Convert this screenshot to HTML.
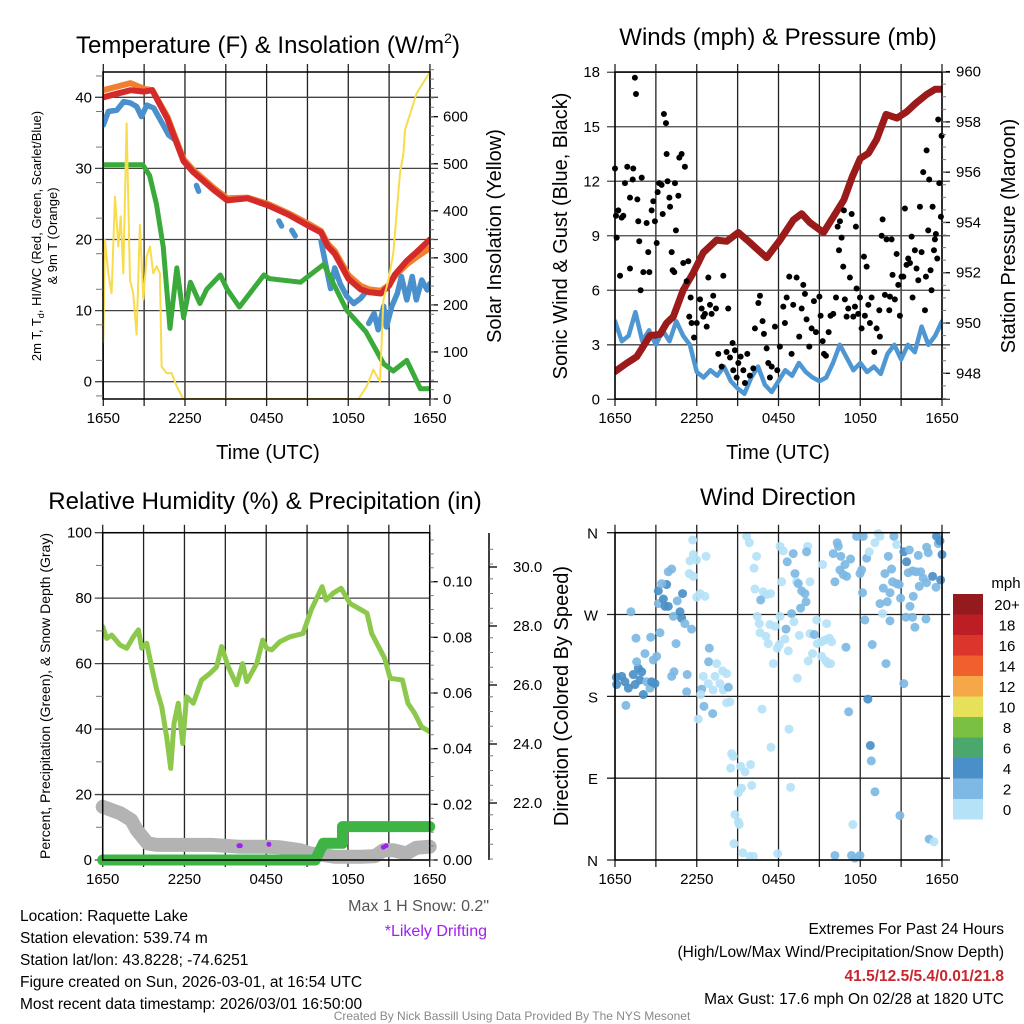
<!DOCTYPE html>
<html><head><meta charset="utf-8">
<style>
html,body{margin:0;padding:0;background:#fff;}
svg{display:block;font-family:"Liberation Sans",Arial,sans-serif;}
</style></head>
<body>
<svg id="c" width="1024" height="1024" viewBox="0 0 1024 1024" xmlns="http://www.w3.org/2000/svg">
<rect width="1024" height="1024" fill="#fff"/>
<g id="grid"></g>
<g id="marks"></g>
<g id="axes"></g>
<g fill="#000">
<text x="268" y="53" font-size="24" text-anchor="middle">Temperature (F) &amp; Insolation (W/m<tspan font-size="14" dy="-10">2</tspan><tspan dy="10">)</tspan></text>
<text x="778" y="45" font-size="24" text-anchor="middle">Winds (mph) &amp; Pressure (mb)</text>
<text x="265" y="509" font-size="24" text-anchor="middle">Relative Humidity (%) &amp; Precipitation (in)</text>
<text x="778" y="505" font-size="24" text-anchor="middle">Wind Direction</text>
<text x="268" y="459" font-size="20" text-anchor="middle">Time (UTC)</text>
<text x="778" y="459" font-size="20" text-anchor="middle">Time (UTC)</text>
<text transform="translate(41,236) rotate(-90)" font-size="13" text-anchor="middle">2m T, T<tspan font-size="9" dy="3">d</tspan><tspan dy="-3">, HI/WC (Red, Green, Scarlet/Blue)</tspan></text>
<text transform="translate(57,236) rotate(-90)" font-size="13" text-anchor="middle">&amp; 9m T (Orange)</text>
<text transform="translate(501,236) rotate(-90)" font-size="20" text-anchor="middle">Solar Insolation (Yellow)</text>
<text transform="translate(567,236) rotate(-90)" font-size="20" text-anchor="middle">Sonic Wind &amp; Gust (Blue, Black)</text>
<text transform="translate(1015,236) rotate(-90)" font-size="20" text-anchor="middle">Station Pressure (Maroon)</text>
<text transform="translate(50,696) rotate(-90)" font-size="14" text-anchor="middle">Percent, Precipitation (Green), &amp; Snow Depth (Gray)</text>
<text transform="translate(568,696) rotate(-90)" font-size="20" text-anchor="middle">Direction (Colored By Speed)</text>
<text x="489" y="911" font-size="16" text-anchor="end" fill="#555">Max 1 H Snow: 0.2"</text>
<text x="487" y="936" font-size="16" text-anchor="end" fill="#a020f0">*Likely Drifting</text>
<g font-size="15.5">
<text x="20" y="921">Location: Raquette Lake</text>
<text x="20" y="943">Station elevation: 539.74 m</text>
<text x="20" y="965">Station lat/lon: 43.8228; -74.6251</text>
<text x="20" y="987">Figure created on Sun, 2026-03-01, at 16:54 UTC</text>
<text x="20" y="1009">Most recent data timestamp: 2026/03/01 16:50:00</text>
</g>
<g font-size="15.5" text-anchor="end">
<text x="1004" y="934">Extremes For Past 24 Hours</text>
<text x="1004" y="957">(High/Low/Max Wind/Precipitation/Snow Depth)</text>
<text x="1004" y="981" font-weight="bold" fill="#c62830">41.5/12.5/5.4/0.01/21.8</text>
<text x="1004" y="1004">Max Gust: 17.6 mph On 02/28 at 1820 UTC</text>
</g>
<text x="512" y="1020" font-size="12" text-anchor="middle" fill="#888">Created By Nick Bassill Using Data Provided By The NYS Mesonet</text>
</g>
</svg>
<script>
// ---------- data ----------
const xTickLabels = ["1650","2250","0450","1050","1650"];
const tempTicks = [0,10,20,30,40];
const solarTicks = [0,100,200,300,400,500,600];
const windTicks = [0,3,6,9,12,15,18];
const presTicks = [948,950,952,954,956,958,960];
const rhTicks = [0,20,40,60,80,100];
const precipTicks = [0.00,0.02,0.04,0.06,0.08,0.10];
const snowTicks = [22.0,24.0,26.0,28.0,30.0];
const dirTicks = ["N","E","S","W","N"];
const speedBins = ["0","2","4","6","8","10","12","14","16","18","20+"];

const tempHours = [0,1,2,3,3.6,4.7,5.9,6.6,8.1,9.1,10.6,12.1,13.6,15.0,16.0,16.5,17.0,18.0,18.9,19.5,20.4,21.0,21.4,22.3,23,24];
const tempVals  = [40,40.5,41,40.8,41,37,31,29.5,27,25.5,25.8,24.8,23.5,22,21,19,18,14.5,13,12.6,12.4,13.5,15,17,18.2,20];
const orangeVals= [41,41.5,42,41.2,41,37.3,31.3,29.8,27.3,25.8,25.9,25,23.7,22.3,21.2,19.4,18.4,15,13.5,13,12.8,13.6,14.8,16.5,17.5,18.8];
const chillHours = [0,0.37,1,1.5,2,2.45,2.8,3.2,3.7,4.05,4.4,4.8,5.3,5.4,6.85,7.0,7.1,12.9,13.1,13.2,13.85,14.1,14.2,16.0,16.1,16.3,16.7,17,17.4,17.9,18.4,18.9,19.2,19.35,19.5,19.9,20.2,20.6,20.8,21.2,21.6,21.9,22.3,22.7,23,23.4,23.8,24];
const chillVals  = [36.1,38,38.2,39.4,39.2,38.7,37.3,38.9,38.5,37.3,36.1,34.7,34,null,27.6,26.8,null,22.6,21.9,null,21.3,20.5,null,19.8,18.8,16.9,13.1,16,13.8,12,11,11.7,12.4,null,8.2,9.6,7.3,10.6,7.7,10.6,12.4,14.8,11.5,14.8,11.5,14.3,12.9,13.8];
const dewHours = [0,2.9,3.4,3.9,4.4,4.9,5.4,5.9,6.4,7.1,7.6,8.6,9.1,10,11.8,12.2,14.5,16.2,17.9,19.3,20.6,21.3,22.3,23.3,24];
const dewVals  = [30.5,30.5,29,25,19,7.5,16,9,14,11,13,15,13,10.5,15,14.5,14,16.5,10,7,2.5,1.5,3,-1,-1];
const solarHours = [0,0.12,0.37,0.61,0.86,1.1,1.28,1.47,1.71,1.96,2.2,2.45,2.69,2.94,3.18,3.43,3.67,3.92,4.16,4.28,4.65,5.02,5.39,5.88,18.74,19.35,19.84,20.33,20.58,20.95,21.31,21.8,22.05,22.17,23.03,24];
const solarVals  = [120,338,267,225,430,324,388,267,586,253,225,137,370,211,303,324,267,282,267,69,55,55,27,0,0,27,62,37,211,253,310,480,522,572,650,695];

const presHours = [0,0.86,1.59,2.57,3.3,3.79,4.28,5.0,5.75,6.48,7.46,8.2,9.05,9.91,11.13,12.11,13.09,13.7,14.3,15.3,16.0,16.8,17.4,18.0,18.6,19.2,19.9,20.7,21.4,22.1,22.9,23.5,24];
const presVals  = [948.07,948.4,948.66,949.5,949.55,950,950.25,951.3,952,952.8,953.3,953.25,953.6,953.2,952.6,953.3,954.1,954.35,954,953.6,954.2,954.9,955.8,956.55,956.75,957.3,958.3,958.15,958.4,958.75,959.1,959.3,959.3];
const windHours = [0,0.5,1,1.5,2,2.5,3,3.5,4,4.5,5,5.5,6,6.5,7,7.5,8,8.5,9,9.5,10,10.5,11,11.5,12,12.5,13,13.5,14,14.5,15,15.5,16,16.5,17,17.5,18,18.5,19,19.5,20,20.5,21,21.5,22,22.5,23,23.5,24];
const windVals  = [4.3,3.2,3.5,4.8,3.2,3.8,3.0,3.8,3.2,4.3,3.5,3.0,1.5,1.2,1.6,1.3,1.8,1.0,0.6,0.3,1.2,1.8,0.8,0.4,1.0,1.6,1.3,2.0,1.5,1.2,1.0,1.2,2.0,3.0,2.3,1.6,2.0,1.5,1.8,1.4,2.5,3.0,2.2,3.0,2.6,4.0,3.0,3.5,4.3];
const gustHours = [0,0.12,0.07,0.24,0.37,0.49,0.61,0.73,0.9,1.1,1.1,1.3,1.34,1.46,1.54,1.64,1.71,1.78,1.88,1.96,2.08,2.32,2.44,2.52,2.69,2.81,2.93,3.06,3.13,3.25,3.42,3.5,3.59,3.74,3.79,3.86,3.99,4.04,4.16,4.23,4.35,4.4,4.47,4.65,4.72,4.89,5.01,5.13,5.26,5.38,5.55,5.45,5.62,5.8,6.0,6.24,6.36,6.48,6.6,6.73,6.85,6.97,7.09,7.21,7.41,7.58,7.83,7.95,8.19,8.31,8.44,8.63,8.68,8.8,8.93,9.05,9.22,9.42,9.54,9.71,9.9,10.15,10.27,10.52,10.64,10.83,10.93,11.13,11.25,11.37,11.5,11.74,11.91,12.1,12.35,12.47,12.6,12.79,12.96,13.08,13.33,13.52,13.7,13.82,13.94,14.06,14.26,14.43,14.6,14.75,15,15.09,15.24,15.34,15.48,15.68,15.82,16.02,16.22,16.34,16.44,16.51,16.63,16.75,16.8,16.87,17.0,17.12,17.24,17.37,17.49,17.61,17.68,17.73,17.85,17.98,18.1,18.27,18.34,18.47,18.59,18.71,18.83,19.03,19.2,19.4,19.44,19.57,19.64,19.81,19.93,20.13,20.18,20.3,20.37,20.54,20.67,20.79,20.91,21.03,21.16,21.28,21.4,21.52,21.65,21.77,21.84,22.01,22.13,22.26,22.38,22.5,22.62,22.75,22.82,22.87,22.99,23.06,23.16,23.23,23.31,23.41,23.48,23.55,23.65,23.72,23.8,23.92,23.97];
const gustVals  = [12.7,8.9,10.1,10.4,6.8,10,10.1,11.9,12.8,11.1,7.2,12.1,12.7,17.7,16.8,11,9.8,8.7,6,12.2,7,9.7,8.1,7,10.4,10.9,9.8,8.6,11.4,11.9,11.8,10.2,15.7,15.2,13.5,12,11.1,10.6,8.1,7.1,7,11.9,9.3,11.2,13.3,13.5,7.5,12.8,6.5,7.6,5.6,4.55,4.2,3.4,4.2,5.5,5,4.55,4.7,4,6.7,5.2,4.7,5.7,5,2.5,1.8,6.8,2.6,5,2.3,3.1,1.6,2.7,1.2,2,2.35,1.6,0.9,2.5,1.3,1.7,3.9,5.3,5.7,4.3,3.6,2.8,2,1.2,1.8,4,1.6,2.9,5.1,4.2,5.6,6.75,2.5,5.2,6.7,3.45,5,6.3,5.8,4.4,2.9,3.9,5.4,3.7,5.65,4.6,3.2,2.5,2.4,3.7,4.6,4.7,5.6,9.5,8.2,9.8,8.9,7.3,10.4,5.5,4.55,5,6.7,10.2,4.55,5.1,9.5,6.1,4.7,5.6,3.9,7.85,4.6,7.3,5.2,4.2,5.6,2.6,3.9,4.9,3.45,9,9.9,5.75,8.8,4.9,5.65,8.8,6.85,5.5,8,6.3,4.6,6.75,6.75,10.5,7.4,7.75,7.5,8.95,5.6,8.2,7.2,6.55,10.6,8.1,12.5,4.9,6.75,13.7,9.3,12.1,7.1,6,10.6,8.2,8.8,9.1,7.75,15.4,11.9,10.05,14.5];

const rhHours = [0,0.29,0.66,1.27,1.76,2.25,2.62,2.86,3.23,3.59,3.96,4.33,4.69,4.99,5.23,5.55,5.87,6.16,6.65,7.26,7.87,8.36,8.73,9.22,9.83,10.27,10.57,11.3,11.74,12.03,12.4,13.0,13.75,14.7,15.3,16.1,16.4,16.9,17.5,18.15,19.4,19.74,20.7,21.1,22.0,22.4,22.9,23.4,24];
const rhVals  = [71.3,67.7,68.7,65.7,64.7,68.2,70.3,64.7,66.2,59,52,46.8,37.7,28,41.7,47.9,35.6,49.9,47.9,55,57,59,65.2,59,53.5,60,54.5,60,67.2,64.7,64.2,66.7,68.2,69.2,76.4,83.5,79.4,81.5,83,78.4,75.4,69.2,61.6,55.5,55,47.9,44.8,40.7,39.2];
const snowHours = [0,1.3,2.1,2.5,3.3,4,6,8,9,10,12,13,14.5,15.2,16,17,18,19,20,20.6,21.3,22.3,23,24];
const snowVals  = [21.87,21.65,21.42,21.08,20.63,20.58,20.58,20.58,20.55,20.52,20.52,20.5,20.4,20.29,20.25,20.18,20.18,20.18,20.2,20.4,20.4,20.29,20.48,20.52];
const precipHours = [0,15.6,16.2,17.6,17.6,24];
const precipVals  = [0,0,0.006,0.006,0.012,0.012];
const driftHours = [10.0,10.1,12.2,20.6,20.8];
const driftVals  = [20.55,20.55,20.6,20.5,20.55];

const dirHours = [0.1,0.12,0.49,0.73,0.98,1.34,1.47,1.71,1.83,1.96,2.08,2.32,2.57,2.69,2.93,3.06,2.81,2.2,1.59,0.8,1.17,1.54,2.62,3.3,3.18,3.18,3.55,3.67,3.91,3.79,3.42,3.91,4.16,4.28,4.48,4.57,4.77,4.89,4.96,5.13,5.62,5.3,5.26,4.33,4.16,5.7,5.5,5.75,5.99,6.68,5.45,5.75,5.99,6.24,6.6,6.92,6.87,7.46,7.9,6.48,6.85,7.34,7.7,8.19,7.2,7.95,8.32,6.36,6.29,6.53,7.17,6.11,8.19,8.44,8.56,8.68,8.49,9.22,9.54,9.95,9.05,9.29,10.03,8.8,9.05,9.12,8.73,9.37,9.9,10.15,11.94,9.66,9.86,10.2,10.39,10.27,10.88,11.13,11.42,10.69,10.44,10.59,10.64,11.08,11.25,11.37,11.74,12.11,12.06,11.91,11.62,12.47,12.72,12.55,12.96,13.13,13.53,13.38,10.79,11.45,12.77,12.89,12.11,12.35,13.08,12.64,13.21,12.23,13.33,13.45,13.7,13.94,14.02,13.62,14.31,14.14,14.06,15.24,14.31,14.63,14.8,14.5,14.18,14.85,15.16,15.41,15.53,15.73,15.9,15.16,15.48,15.65,15.82,16.14,16.31,16.39,16.02,16.51,16.88,16.75,17.0,17.29,16.58,16.95,17.15,17.73,18.22,17.98,18.1,18.17,18.47,18.66,18.34,18.88,19.08,19.32,19.45,19.81,20.06,20.3,19.69,20.37,20.67,20.18,19.98,20.96,19.45,19.64,20.18,19.89,20.47,20.67,21.2,21.6,21.4,21.52,21.84,22.09,22.26,22.43,22.62,22.33,22.87,21.89,21.65,21.35,21.84,22.01,22.82,20.86,21.2,22.87,22.99,23.31,23.56,23.6,23.73,23.85,24.0,23.9,18.56,18.74,18.81,19.08,20.91,17.46,16.14,17.36,17.61,17.98,23.06,23.41];
const dirDegs  = [201,193,202,196,189,204,193,211,198,207,182,196,189,196,194,224,220,227,218,170,273,244,245,250,282,296,287,279,279,303,304,317,320,268,238,285,273,266,293,260,254,204,185,207,202,352,329,336,330,334,315,312,289,293,290,233,218,216,208,202,194,202,194,205,187,187,190,188,182,169,161,155,173,174,117,114,101,103,97,105,74,79,82,50,42,39,18,8,4,4,7,356,349,321,334,298,295,292,293,286,268,260,250,246,238,259,257,268,237,233,216,243,230,254,271,262,247,200,166,124,144,80,345,340,337,328,315,306,306,304,296,293,284,277,306,345,339,325,249,248,264,227,219,238,240,242,260,244,240,224,219,216,216,306,349,345,337,319,325,314,312,331,334,234,163,356,356,315,319,294,332,339,264,237,349,359,356,315,334,320,299,306,304,294,284,288,282,271,263,216,356,347,339,341,328,316,318,317,335,317,310,301,305,290,279,267,267,256,265,303,194,344,338,312,300,356,348,351,336,308,177,126,109,75,49,39,5,5,2,5,23,20];
const dirSpeeds = [4.5,4.5,4.5,4.5,4.5,4.5,4.5,4.5,4.5,4.5,4.5,3,3,4.5,4.5,3,3,3,3,3,3,3,3,3,3,4.5,4.5,4.5,4.5,4.5,3,3,3,3,3,3,4.5,4.5,4.5,3,3,3,3,3,3,1,1,1,1,1,1,1,1,1,1,3,3,1,1,1,1,1,1,1,1,1,3,3,1,3,3,1,1,1,1,1,1,1,1,1,1,1,1,1,1,1,1,1,1,1,1,1,1,1,1,1,1,1,1,3,1,1,1,1,1,1,1,1,1,1,1,1,1,3,3,1,1,1,1,1,1,1,1,1,3,3,3,1,1,3,3,3,3,3,1,1,3,1,1,3,1,1,1,1,1,1,1,1,1,1,1,1,1,3,3,3,3,3,3,3,3,3,3,3,3,3,3,3,3,3,3,1,3,3,1,1,1,3,3,3,3,3,3,3,3,3,3,1,3,3,3,1,4.5,3,4.5,3,3,3,3,3,3,3,3,3,3,3,3,3,3,3,3,3,3,4.5,3,4.5,3,4.5,4.5,4.5,4.5,4.5,3,3,3,1,3,3,3,3,3,1,3,3];
const binColors = ["#b5e2f7","#7db9e4","#4a8fc7","#4aa86c","#7ac143","#e6e05a","#f6a748","#ef602c","#dc352b","#bd1d25","#941a1e"];

// ---------- scales ----------
const NS="http://www.w3.org/2000/svg";
const x1=h=>103.3+h*13.61, yT=d=>381.7-d*7.11, yS=w=>399-w*0.4705;
const x2=h=>615+h*13.625, yW=m=>399.3-m*18.17, yP=p=>373.3-(p-948)*25.14;
const x3=h=>102.7+h*13.625, yR=r=>860-r*3.273, yPr=p=>860-p*2783, ySn=s=>803-(s-22)*29.5;
const x4=h=>615+h*13.625, yD=d=>860-d*0.9092;
const G=document.getElementById('grid'), M=document.getElementById('marks'), A=document.getElementById('axes');
function mk(tag,attrs,parent){const e=document.createElementNS(NS,tag);for(const k in attrs)e.setAttribute(k,attrs[k]);parent.appendChild(e);return e;}
function ln(p,x1_,y1_,x2_,y2_,stroke,w){return mk('line',{x1:x1_,y1:y1_,x2:x2_,y2:y2_,stroke:stroke,'stroke-width':w},p);}
function txt(p,x,y,s,size,anchor){const t=mk('text',{x:x,y:y,'font-size':size,'text-anchor':anchor||'middle'},p);t.textContent=s;return t;}

// clip paths
const defs=mk('defs',{},document.getElementById('c'));
[['cp1',103,72,327,327],['cp2',615,72,327,327],['cp3',102.7,532.7,327,327.3],['cp4',605,522,347,348]].forEach(c=>{const cp=mk('clipPath',{id:c[0]},defs);mk('rect',{x:c[1],y:c[2],width:c[3],height:c[4]},cp);});

function pathD(hs,vs,fx,fy){let d='',pen=false;for(let i=0;i<hs.length;i++){if(vs[i]===null){pen=false;continue;}d+=(pen?'L':'M')+fx(hs[i]).toFixed(1)+' '+fy(vs[i]).toFixed(1);pen=true;}return d;}
function series(hs,vs,fx,fy,color,w,clip,name){const p=mk('path',{d:pathD(hs,vs,fx,fy),fill:'none',stroke:color,'stroke-width':w,'stroke-linejoin':'round','stroke-linecap':'round','clip-path':'url(#'+clip+')'},M);


return p;}

// ---------- panel frames/grids ----------
function panel(L,T,R,B,vx,name){
  const g=mk('g',{},G);
  
  
  for(let i=0;i<=8;i++){const x=vx(i*3);ln(g,x,T-8,x,B+7,'#222',1.3);}
  const f=mk('rect',{x:L,y:T,width:R-L,height:B-T,fill:'none',stroke:'#000','stroke-width':1.5},A);
  
  
  for(let i=0;i<5;i++){const t=txt(A,vx(i*6),B+24,xTickLabels[i],15);
    
    }
}
function hgrid(vals,fy,L,R,lx,fmt,name,right){vals.forEach(v=>{const y=fy(v);ln(G,L-8,y,R+(right?8:0),y,'#444',1.3);const t=txt(A,lx,y+5,fmt(v),15,'end');
  
  });}
function rightAxis(vals,fy,X,lx,fmt,name,minStep,lo,hi){vals.forEach(v=>{const y=fy(v);ln(A,X,y,X+8,y,'#000',1.3);const t=txt(A,lx,y+5,fmt(v),15,'start');
  
  });
  for(let v=lo;v<=hi+1e-9;v+=minStep){ln(A,X,fy(v),X+4,fy(v),'#777',1);}}

// Panel 1
panel(103,72,430,399,x1,'temperature');
hgrid(tempTicks,yT,103,430,92,v=>v,'temperature-y-tick-label',true);
rightAxis(solarTicks,yS,430,443,v=>v,'insolation-y-tick-label',20,0,700);
for(let v=-2;v<=44;v+=5){if(v%10)ln(A,96,yT(v),103,yT(v),'#777',1);}
// Panel 2
panel(615,72,942,399,x2,'winds');
hgrid(windTicks,yW,615,942,600,v=>v,'wind-y-tick-label',true);
rightAxis(presTicks,yP,942,956,v=>v,'pressure-y-tick-label',0.5,947,960);
// Panel 3
panel(102.7,532.7,429.7,860,x3,'humidity');
hgrid(rhTicks,yR,102.7,429.7,92,v=>v,'humidity-y-tick-label',false);
rightAxis(precipTicks,yPr,429.7,443,v=>v.toFixed(2),'precip-y-tick-label',0.005,0,0.115);
ln(A,489,533,489,860,'#000',1.5);
rightAxis(snowTicks,ySn,489,513,v=>v.toFixed(1),'snow-y-tick-label',0.5,20.1,31);
for(let v=10;v<100;v+=20)ln(A,96,yR(v),102.7,yR(v),'#777',1);
// Panel 4
panel(615,532.7,942,860,x4,'direction');
dirTicks.forEach((s,i)=>{const y=yD(i*90);ln(G,607,y,950,y,'#222',1.3);const t=txt(A,598,y+6,s,15,'end');
  
  });

// ---------- series ----------
series(tempHours,orangeVals,x1,yT,'#f08030',6,'cp1','orange-9m-temp-line');
series(chillHours,chillVals,x1,yT,'#4a90cc',5.5,'cp1','windchill-line');
series(tempHours,tempVals,x1,yT,'#d42a2a',6,'cp1','temperature-line');
series(dewHours,dewVals,x1,yT,'#3aaa3a',5,'cp1','dewpoint-line');
series(solarHours,solarVals,x1,yS,'#f8dc4c',2,'cp1','insolation-line');

series(windHours,windVals,x2,yW,'#4f97d2',4.5,'cp2','sonic-wind-line');
series(presHours,presVals,x2,yP,'#9b1b1b',7,'cp2','pressure-line');
gustHours.forEach((h,i)=>{const c=mk('circle',{cx:x2(h),cy:yW(gustVals[i]),r:3,fill:'#000'},M);
  
  });

series(rhHours,rhVals,x3,yR,'#8cc84b',5,'cp3','humidity-line');
series(snowHours,snowVals,x3,ySn,'#b3b3b3',14,'cp4','snow-depth-line').setAttribute('clip-path','');
series(precipHours,precipVals,x3,yPr,'#3db443',11,'cp4','precip-line').setAttribute('clip-path','');
driftHours.forEach((h,i)=>{const c=mk('circle',{cx:x3(h),cy:ySn(driftVals[i]),r:2.5,fill:'#a020f0'},M);
  
  });

dirHours.forEach((h,i)=>{const s=dirSpeeds[i];const b=Math.min(10,Math.floor(s/2));const c=mk('circle',{cx:x4(h),cy:yD(dirDegs[i]),r:4.5,fill:binColors[b],'fill-opacity':0.92},M);
  
  });

// colorbar
const cb=mk('g',{},A);


const mt=txt(cb,1006,588,'mph',15);


speedBins.forEach((s,i)=>{const top=594+(10-i)*20.5;const r=mk('rect',{x:953,y:top,width:30,height:20.5,fill:binColors[i]},cb);
  
  
  const t=txt(cb,1007,top+16,s,15);
  
  });
</script>
</body></html>
